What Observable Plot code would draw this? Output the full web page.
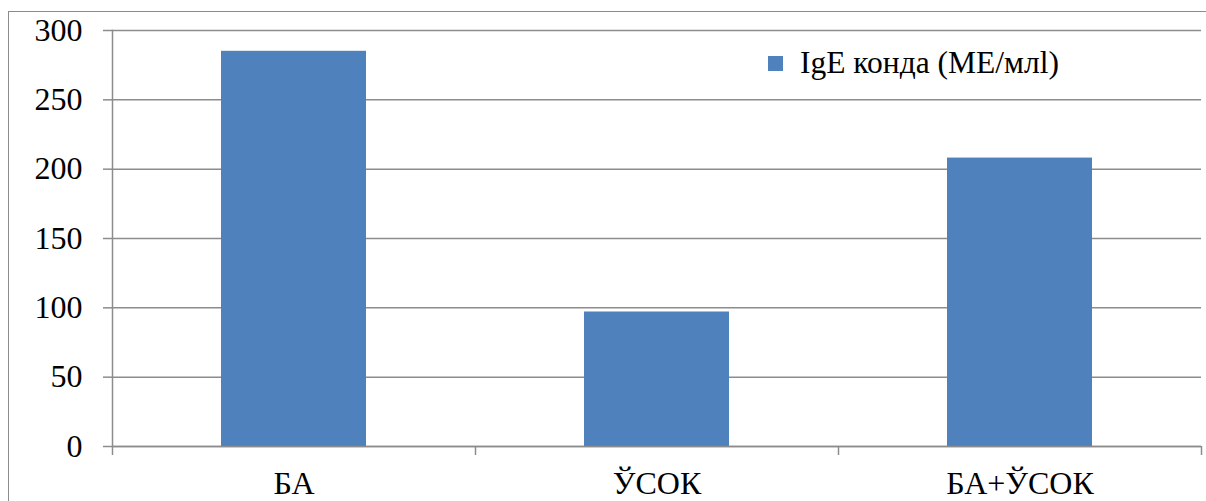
<!DOCTYPE html>
<html>
<head>
<meta charset="utf-8">
<script src="https://cdn.jsdelivr.net/npm/d3@7"></script>
<script src="https://cdn.jsdelivr.net/npm/@observablehq/plot@0.6"></script>
<style>
  html, body { margin: 0; padding: 0; background: #fff; }
  #wrap { position: relative; width: 1206px; height: 501px; overflow: hidden; font-family: "Liberation Serif", "Times New Roman", serif; }
  #frame { position: absolute; left: 8px; top: 11px; width: 1300px; height: 600px; border: 1.5px solid #8c8c8c; box-sizing: border-box; }
  #legend { position: absolute; left: 768px; top: 45px; display: flex; align-items: center; font-size: 31.5px; color: #000; white-space: nowrap; }
  #legend .sw { width: 15px; height: 15px; background: #4F81BD; margin-right: 17px; }
  #chart { position: absolute; left: 0; top: 0; }
  #chart svg, #chart svg text { font-family: "Liberation Serif", "Times New Roman", serif !important; }
</style>
</head>
<body>
<div id="wrap">
  <div id="frame"></div>
  <div id="chart"></div>
  <div id="legend"><span class="sw"></span><span id="legtext"></span></div>
</div>
<script>
const categories = ["БА", "ЎСОК", "БА+ЎСОК"];
const values = [285, 97, 208];
const seriesName = "IgE конда (МЕ/млl)";
const yTicks = [0, 50, 100, 150, 200, 250, 300];

const data = categories.map((c, i) => ({category: c, value: values[i]}));

const W = 1206, H = 501;
const mL = 112, mR = 5, mT = 30, mB = 55;
const step = (W - mL - mR) / categories.length;
const gridColor = "#8c8c8c";
const serif = "'Liberation Serif', 'Times New Roman', serif";

document.getElementById("legtext").textContent = seriesName;

const chart = Plot.plot({
  width: W,
  height: H,
  marginLeft: mL,
  marginRight: mR,
  marginTop: mT,
  marginBottom: mB,
  style: {fontFamily: serif, fontSize: "32px", color: "#000", background: "transparent", overflow: "visible"},
  x: {domain: categories, paddingInner: 0.6, paddingOuter: 0.3, label: null},
  y: {domain: [0, 300], label: null},
  marks: [
    Plot.gridY(yTicks, {stroke: gridColor, strokeOpacity: 1, strokeWidth: 1.5}),
    Plot.barY(data, {x: "category", y: "value", fill: "#4F81BD"}),
    Plot.frame({anchor: "left", stroke: gridColor, strokeWidth: 1.5}),
    Plot.ruleY([0], {stroke: gridColor, strokeWidth: 1.5}),
    Plot.ruleX(categories, {x: d => d, y1: 0, y2: -6.5, dx: -step / 2, stroke: gridColor, strokeWidth: 1.5}),
    Plot.ruleX(categories.slice(-1), {x: d => d, y1: 0, y2: -6.5, dx: step / 2, stroke: gridColor, strokeWidth: 1.5}),
    Plot.axisY({ticks: yTicks, tickSize: 9, tickPadding: 21, stroke: gridColor, strokeWidth: 1.5, strokeOpacity: 1, fontSize: 32, fontFamily: serif, fill: "#000", label: null}),
    Plot.axisX({tickSize: 0, tickPadding: 25, fontSize: 32, fontFamily: serif, fill: "#000", label: null})
  ]
});
document.getElementById("chart").appendChild(chart);
</script>
</body>
</html>
